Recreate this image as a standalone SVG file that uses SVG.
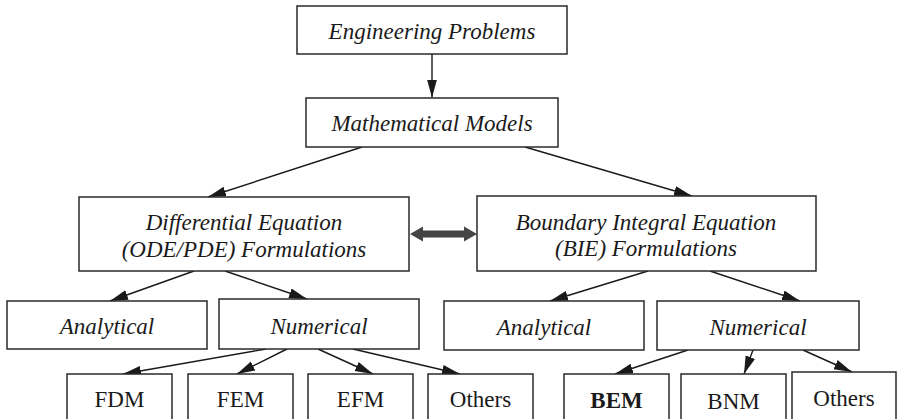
<svg xmlns="http://www.w3.org/2000/svg" width="897" height="419" viewBox="0 0 897 419">
<defs>
<style>
.box{fill:#fff;stroke:#2a2a2a;stroke-width:1.5}
.it{font-family:"Liberation Serif","Times New Roman",serif;font-style:italic;font-size:23px;fill:#1a1a1a;text-anchor:middle}
.rm{font-family:"Liberation Serif","Times New Roman",serif;font-size:23px;fill:#1a1a1a;text-anchor:middle}
.bd{font-weight:bold}
.ln{stroke:#1a1a1a;stroke-width:1.4;fill:none;marker-end:url(#ah)}
</style>
<marker id="ah" markerUnits="userSpaceOnUse" markerWidth="19" markerHeight="11" refX="18" refY="5" orient="auto">
<path d="M0,0 L18,5 L0,10 z" fill="#1a1a1a"/>
</marker>
</defs>
<rect width="897" height="419" fill="#fff"/>
<g id="connectors">
<line class="ln" x1="432" y1="54" x2="432" y2="97.5"/>
<line class="ln" x1="362" y1="147" x2="208" y2="197"/>
<line class="ln" x1="525" y1="147" x2="692" y2="196"/>
<line class="ln" x1="194" y1="271" x2="110" y2="301"/>
<line class="ln" x1="225" y1="271" x2="307" y2="299"/>
<line class="ln" x1="648" y1="271" x2="550" y2="301"/>
<line class="ln" x1="710" y1="271" x2="800" y2="301"/>
<line class="ln" x1="266" y1="349" x2="123" y2="374"/>
<line class="ln" x1="287" y1="349" x2="237" y2="374"/>
<line class="ln" x1="318" y1="349" x2="373" y2="374"/>
<line class="ln" x1="353" y1="349" x2="460" y2="374"/>
<line class="ln" x1="688" y1="350" x2="615" y2="374"/>
<line class="ln" x1="753" y1="350" x2="744" y2="374"/>
<line class="ln" x1="803" y1="350" x2="852" y2="372"/>
<polygon points="410,234 423,226.5 423,230.5 464,230.5 464,226.5 477,234 464,241.5 464,237.5 423,237.5 423,241.5" fill="#454545"/>
</g>
<g id="eng"><rect class="box" x="297" y="6" width="270" height="48"/><text class="it" x="432" y="39">Engineering Problems</text></g>
<g id="math"><rect class="box" x="306" y="98" width="252" height="49"/><text class="it" x="432" y="131">Mathematical Models</text></g>
<g id="de"><rect class="box" x="79" y="197" width="330" height="74"/><text class="it" x="244" y="230">Differential Equation</text><text class="it" x="244" y="257">(ODE/PDE) Formulations</text></g>
<g id="bie"><rect class="box" x="477" y="196" width="339" height="75"/><text class="it" x="646" y="230">Boundary Integral Equation</text><text class="it" x="646" y="256">(BIE) Formulations</text></g>
<g id="anaL"><rect class="box" x="7" y="301" width="200" height="48"/><text class="it" x="107" y="334">Analytical</text></g>
<g id="numL"><rect class="box" x="219" y="299" width="200" height="50"/><text class="it" x="319" y="334">Numerical</text></g>
<g id="anaR"><rect class="box" x="444" y="301" width="200" height="49"/><text class="it" x="544" y="335">Analytical</text></g>
<g id="numR"><rect class="box" x="657" y="301" width="202" height="49"/><text class="it" x="758" y="335">Numerical</text></g>
<g id="fdm"><rect class="box" x="67" y="374" width="105" height="60"/><text class="rm" x="119.5" y="407">FDM</text></g>
<g id="fem"><rect class="box" x="188" y="374" width="105" height="60"/><text class="rm" x="240.5" y="407">FEM</text></g>
<g id="efm"><rect class="box" x="308" y="374" width="105" height="60"/><text class="rm" x="360.5" y="407">EFM</text></g>
<g id="othL"><rect class="box" x="428" y="374" width="105" height="60"/><text class="rm" x="480.5" y="407">Others</text></g>
<g id="bem"><rect class="box" x="564" y="374" width="105" height="60"/><text class="rm bd" x="616.5" y="408">BEM</text></g>
<g id="bnm"><rect class="box" x="681" y="374" width="105" height="60"/><text class="rm" x="733.5" y="409">BNM</text></g>
<g id="othR"><rect class="box" x="792" y="372" width="104" height="60"/><text class="rm" x="844" y="406">Others</text></g>
</svg>
